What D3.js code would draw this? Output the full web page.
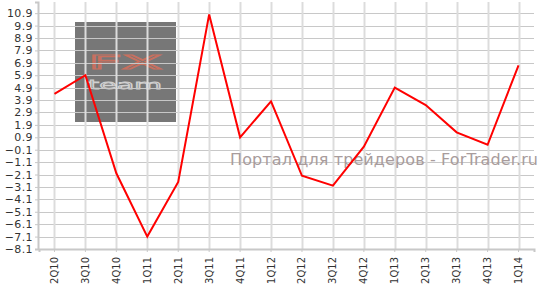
<!DOCTYPE html>
<html>
<head>
<meta charset="utf-8">
<script src="https://cdn.jsdelivr.net/npm/d3@7"></script>
<style>
body{margin:0;background:#fff;}
svg text{font-family:"DejaVu Sans",Verdana,sans-serif;}
</style>
</head>
<body>
<script>
var quarters = ['2Q10','3Q10','4Q10','1Q11','2Q11','3Q11','4Q11','1Q12','2Q12','3Q12','4Q12','1Q13','2Q13','3Q13','4Q13','1Q14'];
var values = [4.4,5.9,-2.0,-7.1,-2.7,10.8,0.9,3.8,-2.2,-3.0,0.15,4.9,3.5,1.3,0.3,6.7];
var yTicks = [10.9,9.9,8.9,7.9,6.9,5.9,4.9,3.9,2.9,1.9,0.9,-0.1,-1.1,-2.1,-3.1,-4.1,-5.1,-6.1,-7.1,-8.1];

var width = 545, height = 296;
var plotLeft = 39, plotRight = 534, plotTop = 2, plotBottom = 249;

var svg = d3.select('body').append('svg')
	.attr('width',width)
	.attr('height',height);

var x = d3.scaleBand().domain(quarters).range([plotLeft,plotRight]);
var y = d3.scaleLinear().domain([-8.1,11.8]).range([plotBottom,plotTop]);
var cx = function(d){ return x(d)+x.bandwidth()/2; };

// watermark box behind the grid
var wm = svg.append('g');
wm.append('rect')
	.attr('x',75).attr('y',22)
	.attr('width',101).attr('height',100)
	.attr('fill','#777');
wm.append('text')
	.attr('x',125).attr('y',69)
	.attr('text-anchor','middle')
	.attr('font-size',20)
	.attr('textLength',74)
	.attr('lengthAdjust','spacingAndGlyphs')
	.attr('fill','none')
	.attr('stroke','#c8705f')
	.attr('stroke-width',1.2)
	.text('FX');
wm.append('text')
	.attr('x',125).attr('y',89)
	.attr('text-anchor','middle')
	.attr('font-size',13)
	.attr('textLength',74)
	.attr('lengthAdjust','spacingAndGlyphs')
	.attr('fill','none')
	.attr('stroke','#d0d0d0')
	.attr('stroke-width',0.8)
	.text('team');

// grid
svg.append('g').selectAll('line')
	.data(yTicks).enter().append('line')
	.attr('x1',plotLeft).attr('x2',plotRight)
	.attr('y1',function(d){return Math.round(y(d))+0.5;})
	.attr('y2',function(d){return Math.round(y(d))+0.5;})
	.attr('stroke','#c8c8c8');
svg.append('g').selectAll('line')
	.data(quarters).enter().append('line')
	.attr('x1',function(d){return Math.round(cx(d))+0.5;})
	.attr('x2',function(d){return Math.round(cx(d))+0.5;})
	.attr('y1',plotTop).attr('y2',plotBottom)
	.attr('stroke','#dcdcdc')
	.attr('stroke-width',2);

// axes
var yAxis = svg.append('g')
	.attr('transform','translate('+(plotLeft-1)+',0)')
	.call(d3.axisLeft(y).tickValues(yTicks).tickSize(3).tickPadding(2).tickFormat(d3.format('.1f')));
var xAxis = svg.append('g')
	.attr('transform','translate(0,'+plotBottom+')')
	.call(d3.axisBottom(x).tickSize(3).tickPadding(2));
[yAxis,xAxis].forEach(function(a){
	a.select('.domain').attr('stroke','#c8c8c8').attr('stroke-width',2);
	a.selectAll('.tick line').attr('stroke','#c8c8c8');
	a.selectAll('text').attr('fill','#333').style('font-family','"DejaVu Sans",Verdana,sans-serif');
});
yAxis.selectAll('text').attr('font-size',11).style('letter-spacing','0.4px');
xAxis.selectAll('text')
	.attr('font-size',10)
	.attr('transform','rotate(-90)')
	.attr('text-anchor','end')
	.attr('x',-8).attr('y',0).attr('dy','0.35em');

// site caption
svg.append('text')
	.attr('x',538).attr('y',165)
	.attr('text-anchor','end')
	.attr('font-size',16)
	.attr('textLength',308)
	.attr('fill','#a89c9c')
	.text('Портал для трейдеров - ForTrader.ru');

// series
var line = d3.line()
	.x(function(d,i){return cx(quarters[i]);})
	.y(function(d){return y(d);});
svg.append('path')
	.datum(values)
	.attr('d',line)
	.attr('fill','none')
	.attr('stroke','#ff0000')
	.attr('stroke-width',2);
</script>
</body>
</html>
